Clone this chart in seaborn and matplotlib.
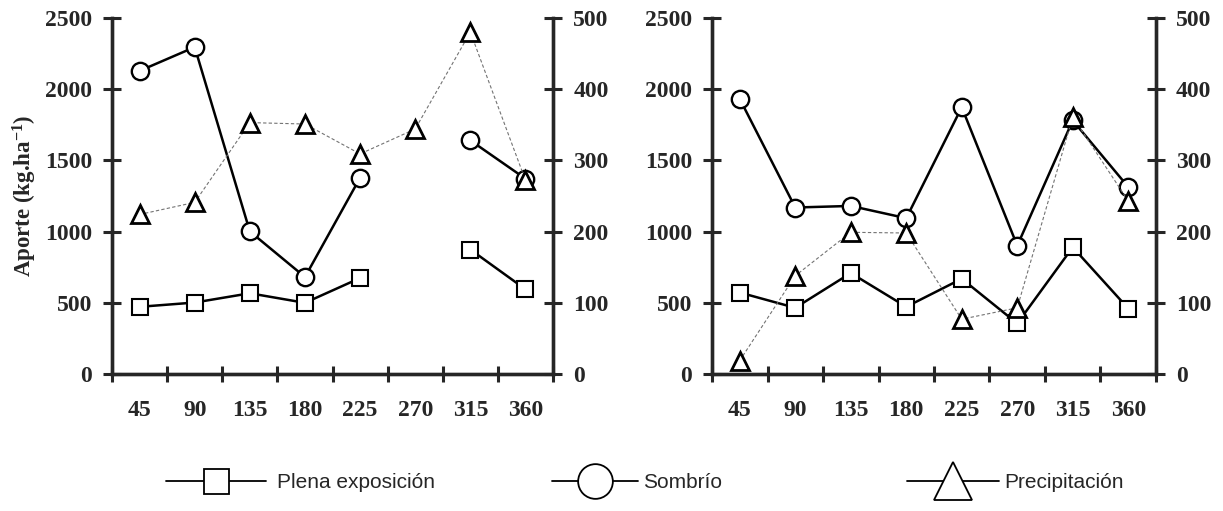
import numpy as np
import pandas as pd
import seaborn as sns
import matplotlib.pyplot as plt
from matplotlib.lines import Line2D

# categorias del eje x (dias)
dias = ['45', '90', '135', '180', '225', '270', '315', '360']

# panel izquierdo (kg/ha, precipitacion en eje derecho)
plena_a = [472, 502, 567, 500, 674, np.nan, 874, 595]
sombrio_a = [2128, 2295, 1001, 681, 1378, np.nan, 1640, 1371]
precip_a = [224, 241, 353, 351, 309, 344, 480, 272]

# panel derecho
plena_b = [572, 465, 709, 472, 669, 355, 890, 460]
sombrio_b = [1931, 1169, 1180, 1094, 1873, 901, 1780, 1313]
precip_b = [19, 138, 199, 198, 77, 93, 361, 243]

sns.set_style('ticks')
plt.rcParams['font.family'] = ['Liberation Serif', 'DejaVu Serif']
plt.rcParams['font.weight'] = 'bold'
plt.rcParams['mathtext.fontset'] = 'custom'
plt.rcParams['mathtext.rm'] = 'Liberation Serif:bold'
plt.rcParams['mathtext.bf'] = 'Liberation Serif:bold'
plt.rcParams['mathtext.default'] = 'rm'


def tramos(vals):
    # separa la serie en tramos donde hay huecos (NaN)
    s = pd.Series(vals, dtype=float)
    df = pd.DataFrame({'pos': np.arange(len(s)), 'val': s})
    df['tramo'] = s.isna().cumsum()
    return df.dropna()


def estilo_ejes(ax, ax2):
    for a in (ax, ax2):
        for sp in a.spines.values():
            sp.set_linewidth(2.4)
        a.spines['top'].set_visible(False)
    ax.set_xlim(-0.5, 7.5)
    ax.set_ylim(0, 2500)
    ax.set_yticks(np.arange(0, 2501, 500))
    ax2.set_ylim(0, 500)
    ax2.set_yticks(np.arange(0, 501, 100))
    ax.set_xticks(np.arange(-0.5, 8, 1))
    ax.set_xticklabels([])
    ax.set_xticks(np.arange(len(dias)), minor=True)
    ax.set_xticklabels(dias, minor=True)
    ax.tick_params(axis='x', which='major', direction='inout', length=12, width=2.2)
    ax.tick_params(axis='x', which='minor', length=0, pad=19, labelsize=17)
    ax.tick_params(axis='y', direction='inout', length=13, width=2.2, pad=8, labelsize=17)
    ax2.tick_params(axis='y', direction='inout', length=13, width=2.2, pad=8, labelsize=17)
    ax.set_xlabel('')
    ax.set_ylabel('')
    ax2.set_ylabel('')


def panel(ax, plena, sombrio, precip):
    ax2 = ax.twinx()
    ax2.set_zorder(ax.get_zorder() + 1)
    ax2.patch.set_visible(False)
    sns.lineplot(data=tramos(sombrio), x='pos', y='val', units='tramo', estimator=None,
                 color='black', lw=1.8, marker='o', ms=12.5, mfc='white', mec='black',
                 mew=1.7, legend=False, ax=ax)
    sns.lineplot(data=tramos(plena), x='pos', y='val', units='tramo', estimator=None,
                 color='black', lw=1.8, marker='s', ms=11, mfc='white', mec='black',
                 mew=1.5, legend=False, ax=ax)
    sns.lineplot(data=tramos(precip), x='pos', y='val', units='tramo', estimator=None,
                 color='0.45', lw=0.8, ls=(0, (3, 2)), marker='^', ms=13, mfc='white',
                 mec='black', mew=2.0, legend=False, ax=ax2)
    estilo_ejes(ax, ax2)
    return ax2


fig = plt.figure(figsize=(12.23, 5.11), dpi=100)
ax_a = fig.add_axes([0.0916, 0.268, 0.3606, 0.697])
ax_b = fig.add_axes([0.5822, 0.268, 0.3630, 0.697])

panel(ax_a, plena_a, sombrio_a, precip_a)
panel(ax_b, plena_b, sombrio_b, precip_b)

ax_a.set_ylabel('Aporte (kg.ha$^{-1}$)', fontsize=16.5, fontweight='bold')
ax_a.yaxis.set_label_coords(-0.165, 0.5)

# leyenda: una entrada por bloque, repartidas bajo los paneles
entradas = [
    ('Plena exposición', 's', 18, 0.127, 4.8, 0.55),
    ('Sombrío', 'o', 25, 0.443, 4.1, 0.25),
    ('Precipitación', '^', 28, 0.733, 4.4, 0.25),
]
for texto, mk, tam, x0, hl, tp in entradas:
    h = Line2D([], [], color='black', lw=1.3, marker=mk, ms=tam, mfc='white',
               mec='black', mew=1.3)
    fig.legend([h], [texto], loc='center left', bbox_to_anchor=(x0, 0.055),
               frameon=False, handlelength=hl, handletextpad=tp, borderpad=0,
               prop={'family': 'Liberation Sans', 'size': 15, 'weight': 'normal'})

fig.savefig('out.png', dpi=100)
